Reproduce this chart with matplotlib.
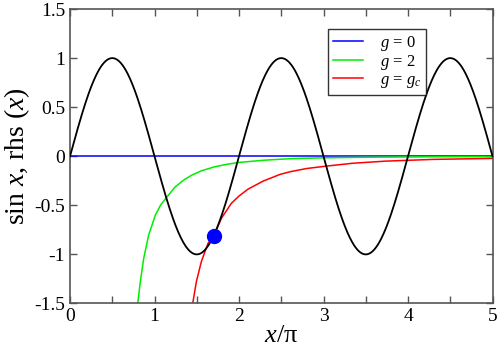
import numpy as np
import matplotlib
matplotlib.use("Agg")
import matplotlib.pyplot as plt

plt.rcParams['font.family'] = ['Liberation Serif', 'DejaVu Serif']
plt.rcParams['mathtext.fontset'] = 'custom'
plt.rcParams['mathtext.rm'] = 'Liberation Serif'
plt.rcParams['mathtext.it'] = 'Liberation Serif:italic'

# x in units of pi
x_sin = np.linspace(0, 5, 501)
y_sin = np.sin(np.pi * x_sin)

# g = 0 line
x_g0 = [0, 5]
y_g0 = [0, 0]

# g = 2 curve
x_g2 = [0.801, 0.832, 0.872, 0.931, 1.010, 1.070, 1.140, 1.246, 1.35, 1.444,
        1.55, 1.70, 1.85, 2.00, 2.30, 2.60, 3.00, 3.50, 4.00, 4.50, 5.00]
y_g2 = [-1.50, -1.278, -1.040, -0.802, -0.599, -0.50, -0.422, -0.311, -0.24, -0.191,
        -0.15, -0.11, -0.083, -0.063, -0.04, -0.025, -0.016, -0.010, -0.007, -0.005, -0.004]

# g = g_c curve
x_gc = [1.452, 1.495, 1.554, 1.633, 1.700, 1.791, 1.909, 2.000, 2.107, 2.288,
        2.485, 2.604, 2.80, 3.037, 3.35, 3.728, 4.30, 5.00]
y_gc = [-1.50, -1.278, -1.074, -0.887, -0.813, -0.633, -0.480, -0.405, -0.335, -0.252,
        -0.185, -0.158, -0.125, -0.100, -0.071, -0.050, -0.032, -0.022]

# tangency point
x_dot = [1.70]
y_dot = [-0.81]

legend_labels = ['$g$ = 0', '$g$ = 2', '$g$ = $g_c$']

fig = plt.figure(figsize=(4.98, 3.48), dpi=100)
ax = fig.add_axes([0.1406, 0.1279, 0.8484, 0.8462])

ax.plot(x_sin, y_sin, color='black', lw=1.3, zorder=3)
ax.plot(x_g0, y_g0, color='#0000ff', lw=1.1, label=legend_labels[0], zorder=2)
ax.plot(x_g2, y_g2, color='#00ee00', lw=1.1, label=legend_labels[1], zorder=2)
ax.plot(x_gc, y_gc, color='#ff0000', lw=1.1, label=legend_labels[2], zorder=2)
ax.plot(x_dot, y_dot, 'o', color='#0000ff', ms=10, zorder=4)

ax.set_xlim(0, 5)
ax.set_ylim(-1.5, 1.5)
ax.set_xticks([0, 1, 2, 3, 4, 5])
ax.set_xticks([0.5, 1.5, 2.5, 3.5, 4.5], minor=True)
ax.set_yticks([-1.5, -1, -0.5, 0, 0.5, 1, 1.5])
ax.set_xticklabels(['0', '1', '2', '3', '4', '5'])
ax.set_yticklabels(['-1.5', '-1', '-0.5', '0', '0.5', '1', '1.5'])
ax.tick_params(which='both', direction='in', top=True, right=True,
               length=5, width=1, color='#555555', labelsize=14)
for s in ax.spines.values():
    s.set_color('#555555')
    s.set_linewidth(1.2)

ax.set_xlabel('$x$/π', fontsize=19, labelpad=0)
ax.set_ylabel('sin $x$, rhs ($x$)', fontsize=20, labelpad=2)

leg = ax.legend(loc='upper left', bbox_to_anchor=(0.611, 0.932), borderaxespad=0,
                fontsize=12, frameon=True, fancybox=False, handlelength=1.8,
                labelspacing=0.0, borderpad=0.3, handletextpad=1.0)
leg.get_frame().set_edgecolor('black')
leg.get_frame().set_linewidth(1.0)

fig.savefig('out.png', dpi=100)
